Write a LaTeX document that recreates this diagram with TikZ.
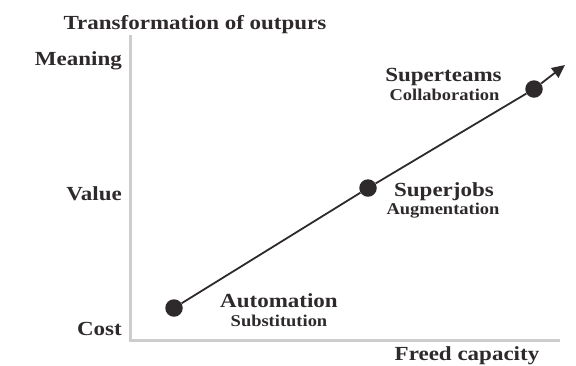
\documentclass[tikz,border=0pt]{standalone}
\usepackage{fontspec}
\setmainfont{Liberation Serif}
\newfontfamily\headfont[FakeStretch=1.15]{Liberation Serif}
\newfontfamily\subfont[FakeStretch=1.12]{Liberation Serif}
\usetikzlibrary{arrows.meta}
\definecolor{ink}{HTML}{2E2A2B}
\definecolor{axisgray}{HTML}{CDCDCD}
\tikzset{
  axisline/.style={draw=axisgray, line width=3pt},
  bigtext/.style={font=\headfont\fontsize{20}{22}\selectfont\bfseries, text=ink, inner sep=0pt, anchor=base},
  subtext/.style={font=\subfont\fontsize{16.5}{18}\selectfont\bfseries, text=ink, inner sep=0pt, anchor=base},
  stage/.style={circle, fill=ink, minimum size=17.5pt, inner sep=0pt},
  trend/.style={draw=ink, line width=1.8pt, -{Triangle[length=13pt,width=12pt]}}
}
\begin{document}
\begin{tikzpicture}[x=1pt,y=-1pt]
\useasboundingbox (0,0) rectangle (576,365);
% axes
\coordinate (ytop) at (130,35);
\coordinate (origin) at (130,340);
\coordinate (xend) at (560,340);
\draw[axisline] (ytop) -- (origin) -- (xend);
% axis titles
\node[bigtext] (ytitle) at (195,29) {Transformation of outpurs};
\node[bigtext, anchor=base east] (meaning) at (122,65) {Meaning};
\node[bigtext, anchor=base east] (value) at (122,200) {Value};
\node[bigtext, anchor=base east] (cost) at (122,335) {Cost};
\node[bigtext] (xtitle) at (467,360) {Freed capacity};
% stages
\node[stage] (auto) at (174,308) {};
\node[stage] (jobs) at (368,188) {};
\node[stage] (teams) at (534,89) {};
\coordinate (tip) at (565,65);
\draw[trend] (auto) -- (jobs) -- (teams) -- (tip);
% stage labels
\node[bigtext] (autolbl) at (279,307.5) {Automation};
\node[subtext] (autosub) at (279,326.5) {Substitution};
\node[bigtext] (jobslbl) at (444,196.5) {Superjobs};
\node[subtext] (jobssub) at (443,214.5) {Augmentation};
\node[bigtext] (teamslbl) at (443.5,81.5) {Superteams};
\node[subtext] (teamssub) at (444.5,100.5) {Collaboration};
\end{tikzpicture}
\end{document}
